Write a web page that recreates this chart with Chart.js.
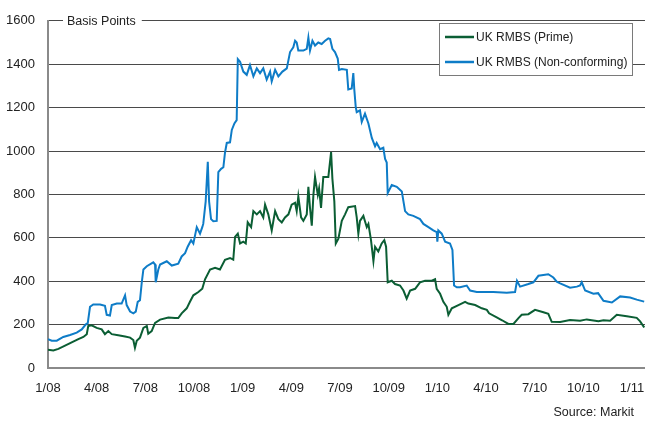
<!DOCTYPE html>
<html>
<head>
<meta charset="utf-8">
<script src="https://cdn.jsdelivr.net/npm/chart.js@4.4.0/dist/chart.umd.min.js"></script>
<style>
html,body{margin:0;padding:0;background:#fff;}
#c{display:block;width:645px;height:423px;}
</style>
</head>
<body>
<canvas id="c" width="645" height="423"></canvas>
<script>
// x values: months elapsed since the start of January 2008
const primeX = [0.00,0.33,0.64,1.05,1.46,1.87,2.18,2.39,2.48,2.69,3.00,3.31,3.51,3.72,3.93,4.33,4.75,5.06,5.26,5.36,5.47,5.67,5.88,6.09,6.18,6.39,6.60,6.91,7.42,7.83,8.03,8.24,8.55,8.75,8.96,9.27,9.51,9.68,9.99,10.30,10.60,10.91,11.22,11.42,11.53,11.70,11.84,12.04,12.19,12.31,12.52,12.66,12.87,13.07,13.27,13.38,13.58,13.79,14.00,14.20,14.41,14.61,14.82,15.02,15.23,15.33,15.43,15.60,15.74,15.95,16.05,16.15,16.26,16.36,16.46,16.63,16.71,16.83,16.97,17.28,17.45,17.53,17.65,17.74,17.90,18.11,18.31,18.51,18.93,19.03,19.13,19.23,19.44,19.65,19.75,19.91,20.06,20.16,20.36,20.57,20.73,20.84,20.94,21.19,21.39,21.70,21.91,22.11,22.32,22.63,22.93,23.24,23.66,23.86,23.96,24.17,24.37,24.58,24.68,24.89,25.30,25.71,25.91,26.33,26.74,27.05,27.19,27.66,27.99,28.38,28.69,29.00,29.20,29.61,30.02,30.54,30.84,31.05,31.57,32.18,32.80,33.21,33.93,34.24,34.65,35.06,35.68,36.29,36.50,36.75];
const primeY = [84,81,88,103,118,133,143,156,193,197,185,178,156,170,156,151,145,140,129,93,126,140,185,193,158,170,208,223,233,230,230,252,275,305,335,350,365,409,454,462,454,499,507,499,604,619,574,582,574,671,649,723,708,723,694,753,708,634,723,686,671,694,708,753,761,723,791,694,678,708,835,738,656,798,880,798,828,738,880,880,995,873,768,574,596,678,708,741,746,694,619,678,701,649,664,589,492,559,537,574,589,559,395,402,387,380,357,320,357,365,395,402,402,409,365,342,305,282,245,275,290,305,297,290,275,268,252,233,220,203,203,230,245,248,268,257,250,213,212,221,218,224,216,220,218,245,238,231,215,187];

const nonConfX = [0.00,0.23,0.54,0.94,1.36,1.77,2.08,2.32,2.45,2.59,2.79,3.21,3.51,3.62,3.82,3.93,4.24,4.54,4.75,4.85,5.06,5.26,5.41,5.53,5.67,5.78,5.88,6.09,6.49,6.60,6.64,6.80,6.91,7.32,7.63,8.03,8.24,8.45,8.61,8.82,8.96,9.17,9.37,9.51,9.57,9.72,9.85,9.93,10.05,10.19,10.40,10.50,10.67,10.81,10.91,11.02,11.22,11.33,11.49,11.63,11.70,11.84,12.04,12.25,12.45,12.66,12.87,13.07,13.27,13.48,13.69,13.79,14.00,14.20,14.45,14.72,14.92,15.12,15.23,15.33,15.43,15.74,15.95,16.05,16.15,16.30,16.46,16.66,16.87,17.08,17.28,17.39,17.53,17.69,17.86,17.94,18.11,18.42,18.51,18.72,18.82,18.88,18.97,19.03,19.23,19.34,19.54,19.75,19.96,20.16,20.26,20.47,20.67,20.78,20.88,20.94,21.19,21.50,21.81,22.01,22.21,22.52,22.93,23.14,23.45,23.75,23.96,24.00,24.06,24.27,24.48,24.78,24.93,25.03,25.20,25.40,25.81,26.02,26.43,26.84,27.45,28.28,28.79,28.91,29.10,29.61,29.92,30.23,30.84,31.15,31.36,31.57,32.18,32.60,32.80,32.90,33.11,33.62,33.91,34.24,34.76,35.27,35.88,36.29,36.75];
const nonConfY = [133,126,126,143,152,163,178,200,207,282,293,293,287,245,242,290,297,297,335,290,260,252,260,305,312,395,454,469,487,477,395,454,477,492,472,481,514,529,559,589,574,649,619,649,664,768,950,768,686,676,678,903,918,925,992,1037,1040,1097,1127,1142,1423,1411,1366,1351,1396,1344,1381,1359,1381,1329,1366,1321,1374,1344,1366,1381,1456,1478,1508,1500,1463,1463,1471,1523,1463,1508,1486,1500,1493,1508,1519,1516,1471,1456,1426,1374,1378,1374,1284,1288,1359,1284,1202,1179,1187,1134,1172,1127,1060,1022,1037,1008,1015,963,947,806,843,835,813,723,708,701,686,664,649,634,626,582,634,619,582,574,544,380,372,372,380,357,350,350,350,347,350,402,375,387,395,425,432,417,398,390,370,375,380,395,357,342,345,310,302,330,325,315,306];

const seriesNames = ['UK RMBS (Prime)', 'UK RMBS (Non-conforming)'];
const tickMonths = [0,3,6,9,12,15,18,21,24,27,30,33,36];
const tickLabels = ['1/08','4/08','7/08','10/08','1/09','4/09','7/09','10/09','1/10','4/10','7/10','10/10','1/11'];
const yTicks = [0,200,400,600,800,1000,1200,1400,1600];
const axisTitle = 'Basis Points';
const sourceText = 'Source: Markit';

const GREEN = '#0b5e34';
const BLUE = '#0e7cc7';
const FONT = "'Liberation Sans', Arial, sans-serif";

function pts(xs, ys){ return xs.map((x,i)=>({x:x, y:ys[i]})); }

const overlay = {
  id: 'overlay',
  afterDatasetsDraw(chart){
    const ctx = chart.ctx;
    const ca = chart.chartArea;
    ctx.save();
    // axis title on top gridline
    ctx.font = '12.5px ' + FONT;
    ctx.textBaseline = 'middle';
    ctx.textAlign = 'left';
    const tw = ctx.measureText(axisTitle).width;
    ctx.fillStyle = '#fff';
    ctx.fillRect(ca.left + 15, ca.top - 7, tw + 10, 14);
    ctx.fillStyle = '#222';
    ctx.fillText(axisTitle, ca.left + 19, ca.top + 1);
    // legend box
    const bx = 439, by = 23, bw = 193, bh = 52;
    ctx.fillStyle = '#fff';
    ctx.fillRect(bx, by, bw, bh);
    ctx.strokeStyle = '#7a7a7a';
    ctx.lineWidth = 1;
    ctx.strokeRect(bx + 0.5, by + 0.5, bw, bh);
    ctx.font = '12px ' + FONT;
    chart.data.datasets.forEach((ds, i) => {
      const yy = by + 14 + i * 25;
      ctx.strokeStyle = ds.borderColor;
      ctx.lineWidth = 2.5;
      ctx.beginPath();
      ctx.moveTo(bx + 6, yy);
      ctx.lineTo(bx + 35, yy);
      ctx.stroke();
      ctx.fillStyle = '#222';
      ctx.textBaseline = 'middle';
      ctx.fillText(ds.label, bx + 37, yy + 1);
    });
    // source
    ctx.font = '12.5px ' + FONT;
    ctx.textAlign = 'right';
    ctx.textBaseline = 'alphabetic';
    ctx.fillText(sourceText, 634, 416);
    ctx.restore();
  }
};

new Chart(document.getElementById('c'), {
  type: 'line',
  data: {
    datasets: [
      { label: seriesNames[0], data: pts(primeX, primeY), borderColor: GREEN, backgroundColor: GREEN, borderWidth: 2, pointRadius: 0, tension: 0, fill: false },
      { label: seriesNames[1], data: pts(nonConfX, nonConfY), borderColor: BLUE, backgroundColor: BLUE, borderWidth: 2, pointRadius: 0, tension: 0, fill: false }
    ]
  },
  options: {
    responsive: false,
    animation: false,
    devicePixelRatio: 1,
    layout: { padding: { top: 11, right: 0, left: 0, bottom: 0 } },
    plugins: { legend: { display: false }, tooltip: { enabled: false }, title: { display: false } },
    scales: {
      x: {
        type: 'linear',
        min: 0,
        max: 36.8,
        afterBuildTicks(scale){ scale.ticks = tickMonths.map(v => ({ value: v })); },
        afterFit(scale){ scale.height = 55; scale.paddingLeft = 0; scale.paddingRight = 0; },
        ticks: {
          autoSkip: false, maxRotation: 0, padding: 13,
          color: '#222', font: { family: FONT, size: 13 },
          callback(v){ const i = tickMonths.indexOf(v); return i >= 0 ? tickLabels[i] : ''; }
        },
        grid: { display: false, drawTicks: false },
        border: { display: true, color: '#8a8a8a', width: 2 }
      },
      y: {
        min: 0,
        max: 1600,
        afterBuildTicks(scale){ scale.ticks = yTicks.map(v => ({ value: v })); },
        afterFit(scale){ scale.width = 48; },
        ticks: { padding: 13, color: '#222', font: { family: FONT, size: 13 }, callback(v){ return String(v); } },
        grid: {
          drawTicks: false,
          color(ctx){ return ctx.tick && ctx.tick.value === 0 ? 'rgba(0,0,0,0)' : '#4a4a4a'; },
          lineWidth: 1
        },
        border: { display: true, color: '#8a8a8a', width: 2 }
      }
    }
  },
  plugins: [overlay]
});
</script>
</body>
</html>
